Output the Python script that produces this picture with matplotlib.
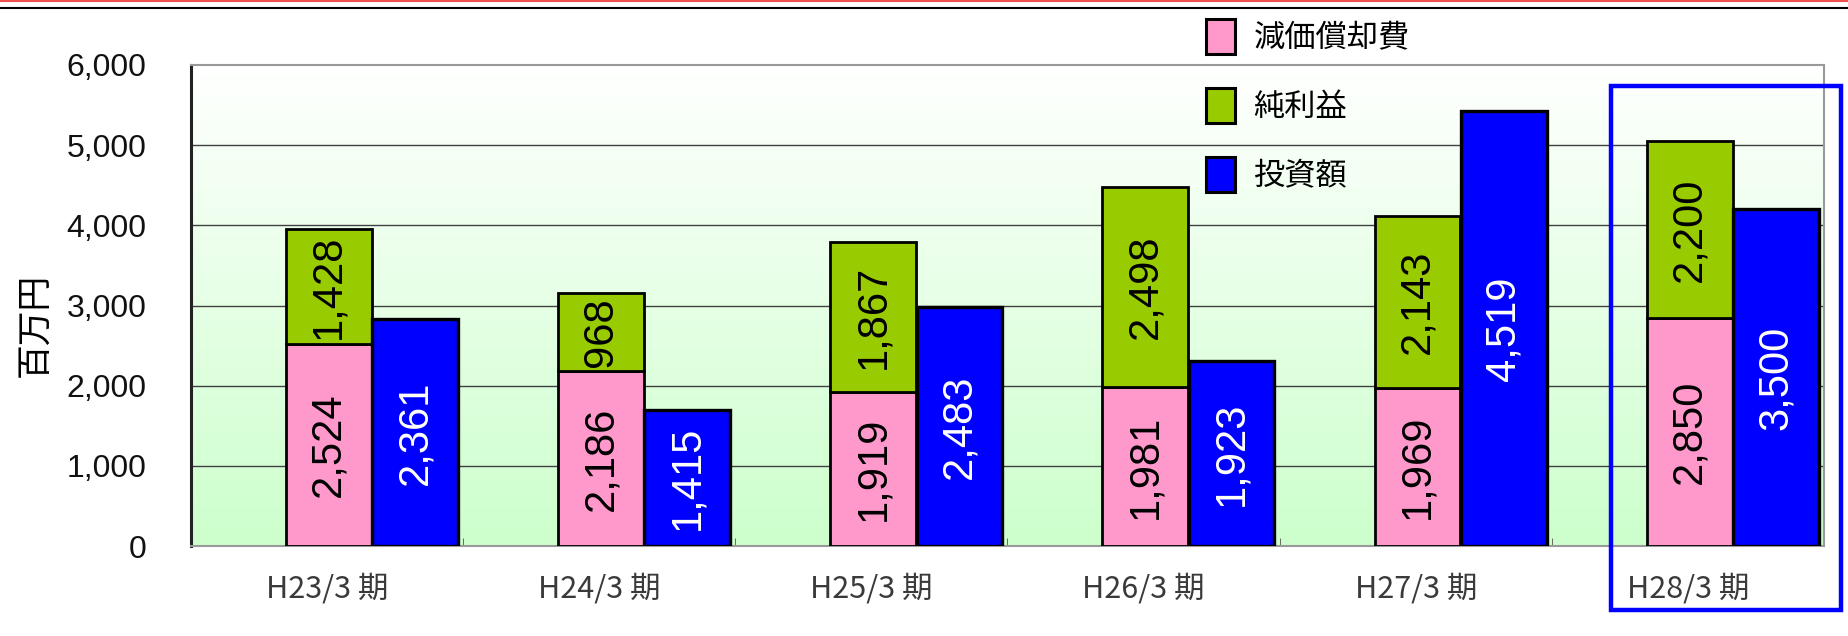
import matplotlib
matplotlib.use("Agg")
import matplotlib.pyplot as plt
import matplotlib.font_manager as fm
from matplotlib.patches import Patch, Rectangle
from matplotlib.lines import Line2D
import numpy as np

# ---- data ----
categories = ['H23/3 期', 'H24/3 期', 'H25/3 期', 'H26/3 期', 'H27/3 期', 'H28/3 期']
depreciation = [2524, 2186, 1919, 1981, 1969, 2850]   # 減価償却費
net_income = [1428, 968, 1867, 2498, 2143, 2200]      # 純利益
investment = [2361, 1415, 2483, 1923, 4519, 3500]     # 投資額 (secondary scale)
yticks = [0, 1000, 2000, 3000, 4000, 5000, 6000]
series_names = ['減価償却費', '純利益', '投資額']

PINK = '#ff99cc'
GREEN = '#99cc00'
BLUE = '#0000ff'
JP = ['Noto Sans CJK JP', 'DejaVu Sans']

names = {f.name for f in fm.fontManager.ttflist}
if 'Liberation Sans Narrow' in names:
    lab_font, lab_size = 'Liberation Sans Narrow', 36
else:
    lab_font, lab_size = 'Liberation Sans', 30

W, H = 1848, 636
fig = plt.figure(figsize=(W / 100, H / 100), dpi=100)
fig.patch.set_facecolor('white')

L, R, T, B = 191, 1824, 65, 546
ax = fig.add_axes([L / W, 1 - B / H, (R - L) / W, (B - T) / H])

# gradient background
grad = np.linspace(0, 1, 256).reshape(-1, 1)
top_c = np.array([1.0, 1.0, 1.0])
bot_c = np.array([204, 255, 204]) / 255
img = top_c * (1 - grad[..., None]) + bot_c * grad[..., None]
img = img.reshape(256, 1, 3)
ax.imshow(img, extent=[0, 1, 0, 1], transform=ax.transAxes, aspect='auto', zorder=0)
ax.set_xlim(-0.5, len(categories) - 0.5)
ax.set_ylim(0, 6000)

for yv in yticks[1:-1]:
    ax.axhline(yv, color='#404040', lw=1.0, zorder=1)

x = np.arange(len(categories))
wb = 0.315
pink_left = x - 0.151
blue_left = x + 0.166

ax.bar(pink_left, depreciation, width=wb, align='edge', color=PINK,
       edgecolor='black', lw=2, zorder=3)
ax.bar(pink_left, net_income, width=wb, bottom=depreciation, align='edge',
       color=GREEN, edgecolor='black', lw=2, zorder=3)

for i in range(len(categories)):
    ax.text(pink_left[i] + wb / 2, depreciation[i] / 2, f"{depreciation[i]:,}",
            rotation=90, ha='center', va='center', fontsize=lab_size,
            family=lab_font, color='black', zorder=5)
    ax.text(pink_left[i] + wb / 2, depreciation[i] + net_income[i] / 2,
            f"{net_income[i]:,}", rotation=90, ha='center', va='center',
            fontsize=lab_size, family=lab_font, color='black', zorder=5)

# axes styling
ax.set_yticks(yticks)
ax.set_yticklabels([f"{v:,}" for v in yticks], family='Liberation Sans', fontsize=23,
                   color='#111111')
ax.tick_params(axis='y', length=0, pad=32)
ax.set_xticks(x)
ax.set_xticklabels(categories, family=JP, fontsize=22, color='#3a3a3a')
ax.tick_params(axis='x', which='major', length=0, pad=20)
ax.set_xticks(np.arange(-0.5, len(categories)), minor=True)
ax.tick_params(axis='x', which='minor', direction='in', length=6, color='#555555')
ax.set_ylabel('百万円', family=JP, fontsize=25)
ax.yaxis.set_label_coords((52 - L) / (R - L), (B - 325) / (B - T))
ax.spines['left'].set_color('#222222')
ax.spines['left'].set_linewidth(2.2)
for s in ['top', 'right', 'bottom']:
    ax.spines[s].set_color('#999999')
    ax.spines[s].set_linewidth(1.5)

# secondary axis for investment
ax2 = ax.twinx()
ax2.set_ylim(0, 5000)
ax2.bar(blue_left, investment, width=wb, align='edge', color=BLUE,
        edgecolor='black', lw=2.4, zorder=3)
for i in range(len(categories)):
    ax2.text(blue_left[i] + wb / 2, investment[i] / 2, f"{investment[i]:,}",
             rotation=90, ha='center', va='center', fontsize=lab_size,
             family=lab_font, color='white', zorder=5)
ax2.set_yticks([])
for s in ax2.spines.values():
    s.set_visible(False)

# legend
handles = [Patch(facecolor=c, edgecolor='black', lw=2.2) for c in (PINK, GREEN, BLUE)]
leg = fig.legend(handles, series_names, loc='upper left',
                 bbox_to_anchor=(1206 / W, 1 - 19 / H), frameon=False,
                 prop={'family': JP, 'size': 22.5}, handlelength=0.92, handleheight=1.35,
                 handletextpad=0.6, labelspacing=1.08, borderpad=0, borderaxespad=0)

# top decoration lines
fig.add_artist(Line2D([0, 1], [1 - 1 / H, 1 - 1 / H], transform=fig.transFigure,
                      color='#f05050', lw=1.5))
fig.add_artist(Line2D([0, 1], [1 - 7.5 / H, 1 - 7.5 / H], transform=fig.transFigure,
                      color='black', lw=1.5))

# highlight rectangle around H28
rx0, rx1, ry0, ry1 = 1611, 1841, 86, 610
fig.add_artist(Rectangle((rx0 / W, 1 - ry1 / H), (rx1 - rx0) / W, (ry1 - ry0) / H,
                         transform=fig.transFigure, fill=False, edgecolor=BLUE,
                         lw=3.2, zorder=10))

fig.savefig('out.png', dpi=100)
